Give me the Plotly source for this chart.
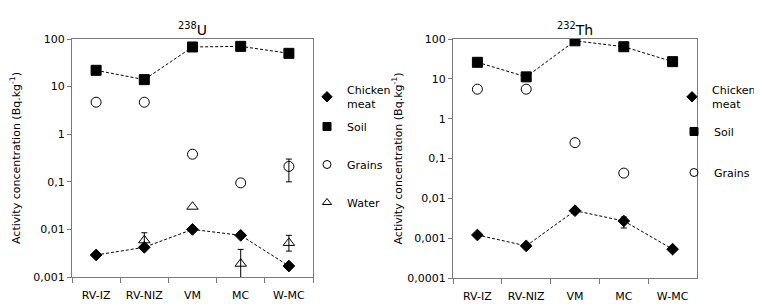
import plotly.graph_objects as go

sites = ["RV-IZ", "RV-NIZ", "VM", "MC", "W-MC"]

# 238U panel
u_chicken = [0.0029, 0.0042, 0.010, 0.0075, 0.0017]
u_soil = [22, 14, 68, 70, 50]
u_grains = [4.7, 4.7, 0.38, 0.095, 0.21]
u_grains_err_plus = [None, None, None, None, 0.09]
u_grains_err_minus = [None, None, None, None, 0.11]
u_water = [None, 0.0059, 0.030, 0.0019, 0.0052]
u_water_err_plus = [None, 0.0026, None, 0.0019, 0.0023]
u_water_err_minus = [None, 0.0015, None, 0.0015, 0.0017]

# 232Th panel
th_chicken = [0.0012, 0.00064, 0.0049, 0.0027, 0.00053]
th_chicken_err_plus = [None, None, None, 0.0007, None]
th_chicken_err_minus = [None, None, None, 0.0009, None]
th_soil = [26, 11.2, 90, 64, 27]
th_grains = [5.5, 5.5, 0.25, 0.043, None]

ytick_vals_u = [0.001, 0.01, 0.1, 1, 10, 100]
ytick_text_u = ["0,001", "0,01", "0,1", "1", "10", "100"]
ytick_vals_th = [0.0001, 0.001, 0.01, 0.1, 1, 10, 100]
ytick_text_th = ["0,0001", "0,001", "0,01", "0,1", "1", "10", "100"]

FONT = "DejaVu Sans"
fig = go.Figure()

MARKERS = {
    "Chicken<br>meat": ("diamond", 9, 8),
    "Soil": ("square", 10, 8),
    "Grains": ("circle-open", 10, 8),
    "Water": ("triangle-up-open", 10, 8),
}

def add_series(xa, ya, legend, name, values, err=None):
    sym, size, lsize = MARKERS[name]
    mline = dict(width=1, color="black")
    if err:
        # error bars only where an error exists
        ev = [v if (ep is not None or em is not None) else None
              for v, ep, em in zip(values, err[0], err[1])]
        fig.add_trace(go.Scatter(
            x=sites, y=ev, mode="markers", showlegend=False, hoverinfo="skip",
            marker=dict(size=1, opacity=0),
            error_y=dict(type="data", symmetric=False, array=err[0], arrayminus=err[1],
                         color="black", thickness=1, width=3),
            xaxis=xa, yaxis=ya))
    fig.add_trace(go.Scatter(
        x=sites, y=values, mode="markers", name=name, showlegend=False,
        marker=dict(symbol=sym, size=size, color="black", line=mline),
        xaxis=xa, yaxis=ya))
    # legend entry (no data)
    fig.add_trace(go.Scatter(
        x=[None], y=[None], mode="markers", name=name,
        marker=dict(symbol=sym, size=lsize, color="black", line=mline),
        xaxis=xa, yaxis=ya, legend=legend[name], legendgroup=legend[name] + name))

def add_panel(xa, ya, legend, chicken, soil, grains, water=None,
              ch_err=None, gr_err=None, wa_err=None):
    line = dict(color="black", width=1, dash="3px,2px")
    fig.add_trace(go.Scatter(x=sites, y=chicken, mode="lines", line=line,
                             xaxis=xa, yaxis=ya, showlegend=False, hoverinfo="skip"))
    fig.add_trace(go.Scatter(x=sites, y=soil, mode="lines", line=line,
                             xaxis=xa, yaxis=ya, showlegend=False, hoverinfo="skip"))
    add_series(xa, ya, legend, "Chicken<br>meat", chicken, ch_err)
    add_series(xa, ya, legend, "Soil", soil)
    add_series(xa, ya, legend, "Grains", grains, gr_err)
    if water is not None:
        add_series(xa, ya, legend, "Water", water, wa_err)

LEG_U = {"Chicken<br>meat": "legend3", "Soil": "legend", "Grains": "legend", "Water": "legend"}
LEG_TH = {"Chicken<br>meat": "legend4", "Soil": "legend2", "Grains": "legend2"}

add_panel("x", "y", LEG_U, u_chicken, u_soil, u_grains, u_water,
          gr_err=(u_grains_err_plus, u_grains_err_minus),
          wa_err=(u_water_err_plus, u_water_err_minus))
add_panel("x2", "y2", LEG_TH, th_chicken, th_soil, th_grains,
          ch_err=(th_chicken_err_plus, th_chicken_err_minus))

# page has an 8px body margin; work in page pixels and convert
OFF = 8
FW, FH = 762 - OFF, 304 - OFF
ML, MT = 72 - OFF, 39 - OFF
MR = FW - (697 - OFF)
MB = FH - (278 - OFF)
PW = FW - ML - MR
PH = FH - MT - MB

def fx(px):
    return (px - OFF - ML) / PW

def fy(py):
    return (FH - MB - (py - OFF)) / PH

axis_common = dict(showline=True, mirror=True, linecolor="#7a7a7a", linewidth=1,
                   showgrid=False, zeroline=False, ticks="outside", tickcolor="#7a7a7a")
xfont = dict(family=FONT, size=11, color="black")
yfont = dict(family=FONT, size=11, color="black")

def leg(xp, yp, gap, anchor="left"):
    return dict(x=fx(xp), y=fy(yp), xanchor=anchor, yanchor="top",
                font=dict(family=FONT, size=11), tracegroupgap=gap,
                bgcolor="rgba(0,0,0,0)")

fig.update_layout(
    width=FW, height=FH,
    margin=dict(l=ML, r=MR, t=MT, b=MB, autoexpand=False),
    paper_bgcolor="white", plot_bgcolor="white",
    font=dict(family=FONT, color="black"),
    xaxis=dict(domain=[fx(72), fx(313)], type="category", range=[-0.5, 4.5],
               tickson="boundaries", ticklen=5, anchor="y", tickfont=xfont,
               tickangle=0, ticklabelstandoff=8, **axis_common),
    yaxis=dict(domain=[fy(277), fy(39)], type="log", range=[-3, 2],
               tickvals=ytick_vals_u, ticktext=ytick_text_u, ticklen=4, anchor="x",
               tickfont=yfont,
               title=dict(text="Activity concentration (Bq.kg<sup>-1</sup>)",
                          font=dict(family=FONT, size=11), standoff=10),
               **axis_common),
    xaxis2=dict(domain=[fx(453), fx(697)], type="category", range=[-0.5, 4.5],
                tickson="boundaries", ticklen=5, anchor="y2", tickfont=xfont,
                tickangle=0, ticklabelstandoff=8, **axis_common),
    yaxis2=dict(domain=[fy(278), fy(39)], type="log", range=[-4, 2],
                tickvals=ytick_vals_th, ticktext=ytick_text_th, ticklen=4, anchor="x2",
                tickfont=yfont,
                title=dict(text="Activity concentration (Bq.kg<sup>-1</sup>)",
                           font=dict(family=FONT, size=11), standoff=2),
                **axis_common),
    legend3=leg(307, 76, 0),
    legend=leg(307, 112, 19),
    legend4=leg(761, 76, 0, "right"),
    legend2=leg(755, 117, 22, "right"),
    annotations=[
        dict(text="<sup>238</sup>U", x=0.5, y=1, xref="x domain", yref="y domain",
             yanchor="bottom", showarrow=False, yshift=-1,
             font=dict(family=FONT, size=14)),
        dict(text="<sup>232</sup>Th", x=0.5, y=1, xref="x2 domain", yref="y2 domain",
             yanchor="bottom", showarrow=False, yshift=-1,
             font=dict(family=FONT, size=14)),
    ],
)

fig.write_html("out.html")
